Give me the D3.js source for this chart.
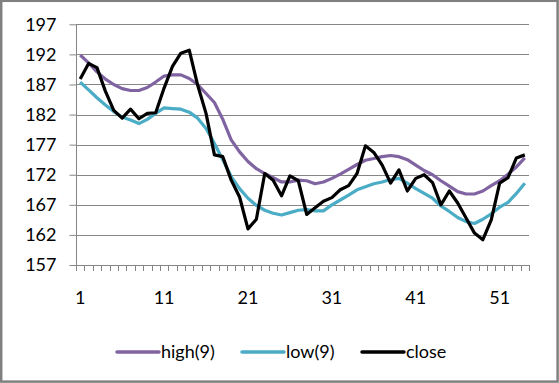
<!DOCTYPE html>
<html>
<head>
<meta charset="utf-8">
<script src="https://cdnjs.cloudflare.com/ajax/libs/d3/7.8.5/d3.min.js"></script>
<style>
  body { margin: 0; background: #fff; }
  text { font-family: Lato, "Open Sans", sans-serif; fill: #000; }
</style>
</head>
<body>
<div id="chart"></div>
<script>
// values, one per period 1..54
var high9 = [191.9, 190.6, 189.1, 187.9, 187.0, 186.3, 186.0, 186.0, 186.5, 187.4,
             188.4, 188.6, 188.6, 188.0, 187.0, 185.5, 184.0, 181.2, 177.8, 175.8,
             174.2, 173.0, 172.2, 171.5, 170.8, 170.8, 171.1, 171.0, 170.5, 170.8,
             171.4, 172.1, 172.9, 173.7, 174.4, 174.7, 175.0, 175.2, 175.0, 174.5,
             173.6, 172.7, 172.0, 171.0, 170.1, 169.2, 168.8, 168.8, 169.3, 170.2,
             171.0, 172.1, 173.3, 174.8];
var low9 = [187.4, 186.1, 184.8, 183.6, 182.5, 181.6, 181.1, 180.5, 181.2, 182.2,
            183.1, 183.0, 182.9, 182.4, 181.4, 179.7, 177.2, 174.5, 171.7, 169.7,
            168.1, 166.9, 166.1, 165.6, 165.3, 165.7, 166.1, 166.2, 166.0, 166.0,
            167.0, 167.8, 168.6, 169.5, 170.0, 170.5, 170.8, 171.2, 171.4, 170.6,
            169.7, 168.9, 168.1, 166.8, 165.9, 164.9, 164.2, 163.9, 164.6, 165.5,
            166.6, 167.4, 168.9, 170.6];
var close = [187.9, 190.5, 189.8, 185.9, 182.7, 181.4, 182.9, 181.3, 182.2, 182.3,
             186.4, 190.0, 192.2, 192.7, 186.9, 182.2, 175.3, 175.0, 171.1, 168.3,
             163.0, 164.6, 172.2, 171.1, 168.5, 171.8, 171.0, 165.4, 166.5, 167.6,
             168.2, 169.5, 170.2, 172.2, 176.8, 175.7, 173.6, 170.6, 172.8, 169.3,
             171.4, 172.0, 170.7, 167.0, 169.3, 167.3, 164.8, 162.3, 161.2, 164.5,
             170.6, 171.5, 174.8, 175.3];
var periods = d3.range(1, 55);
var xLabels = [1, 11, 21, 31, 41, 51];
var yTicks = [157, 162, 167, 172, 177, 182, 187, 192, 197];
var seriesNames = ["high(9)", "low(9)", "close"];
var seriesColors = ["#8064a2", "#4bacc6", "#000000"];

var W = 559, H = 383;
var plotL = 76, plotR = 529, plotT = 24.3, plotB = 265;

var svg = d3.select("#chart").append("svg")
  .attr("width", W).attr("height", H);

// chart border
svg.append("rect")
  .attr("x", 1.2).attr("y", 0.8).attr("width", W - 2.6).attr("height", H - 2.2)
  .attr("fill", "#fff").attr("stroke", "#808080").attr("stroke-width", 2.5);

var x = d3.scaleBand().domain(periods).range([plotL, plotR]).paddingInner(0).paddingOuter(0);
var y = d3.scaleLinear().domain([157, 197]).range([plotB, plotT]);
var cx = function(p) { return x(p) + x.bandwidth() / 2; };

// gridlines
svg.append("g").selectAll("line").data(yTicks.slice(1)).enter().append("line")
  .attr("x1", plotL).attr("x2", plotR)
  .attr("y1", function(d) { return Math.round(y(d)) + 0.5; })
  .attr("y2", function(d) { return Math.round(y(d)) + 0.5; })
  .attr("stroke", "#868686").attr("stroke-width", 1);

// y axis
var yAxis = d3.axisLeft(y).tickValues(yTicks).tickSize(7).tickPadding(13);
var gy = svg.append("g").attr("transform", "translate(" + (plotL + 0.5) + ",0)").call(yAxis);
gy.select(".domain").attr("stroke", "#868686").attr("d", "M0," + plotT + "V" + plotB);
gy.selectAll(".tick line").attr("stroke", "#868686");
gy.selectAll(".tick text").style("font-size", "18px").attr("fill", "#000");

// x axis line + ticks between categories
var gx = svg.append("g");
gx.append("line").attr("x1", plotL).attr("x2", plotR)
  .attr("y1", Math.round(plotB) + 0.5).attr("y2", Math.round(plotB) + 0.5)
  .attr("stroke", "#868686");
var bounds = periods.map(function(p) { return x(p); }).concat([plotR]);
gx.selectAll("line.tk").data(bounds).enter().append("line").attr("class", "tk")
  .attr("x1", function(d) { return Math.round(d) + 0.5; })
  .attr("x2", function(d) { return Math.round(d) + 0.5; })
  .attr("y1", plotB).attr("y2", plotB + 6)
  .attr("stroke", "#868686");
gx.selectAll("text").data(xLabels).enter().append("text")
  .attr("x", function(d) { return cx(d); })
  .attr("y", 304)
  .attr("text-anchor", "middle")
  .style("font-size", "18px")
  .text(function(d) { return d; });

// series lines
var line = d3.line()
  .x(function(d, i) { return cx(periods[i]); })
  .y(function(d) { return y(d); });
[high9, low9, close].forEach(function(s, k) {
  svg.append("path").datum(s)
    .attr("d", line)
    .attr("fill", "none")
    .attr("stroke", seriesColors[k])
    .attr("stroke-width", 3.2)
    .attr("stroke-linejoin", "round");
});

// legend
var legX = [117, 242, 362];
var lg = svg.append("g");
seriesNames.forEach(function(n, k) {
  lg.append("line")
    .attr("x1", legX[k]).attr("x2", legX[k] + 42)
    .attr("y1", 352).attr("y2", 352)
    .attr("stroke", seriesColors[k]).attr("stroke-width", 3.5).attr("stroke-linecap", "round");
  lg.append("text")
    .attr("x", legX[k] + 44).attr("y", 358)
    .style("font-size", "18px")
    .text(n);
});
</script>
</body>
</html>
